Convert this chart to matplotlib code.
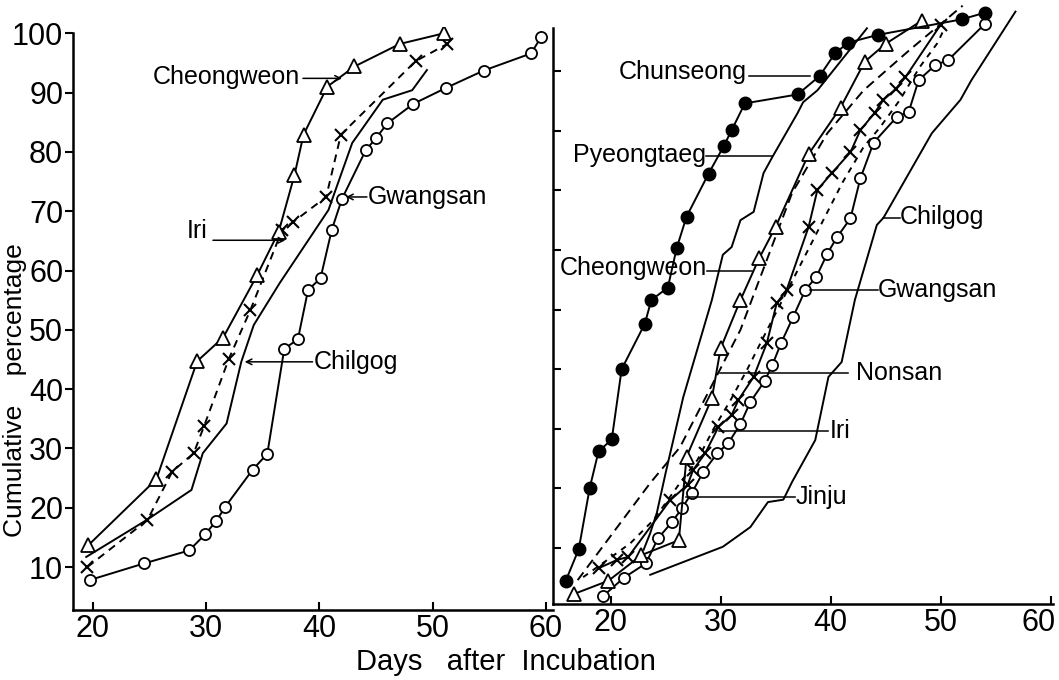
import matplotlib
matplotlib.use('Agg')
import matplotlib.pyplot as plt
from matplotlib.transforms import ScaledTranslation

plt.rcParams['font.family'] = ['Liberation Sans', 'DejaVu Sans']

# ---- left panel: days after incubation / cumulative percentage ----
l_cheong_day = [19.6, 25.6, 29.2, 31.5, 34.5, 36.4, 37.8, 38.6, 40.7, 43.1, 47.1, 51.0]
l_cheong_pct = [13.7, 24.8, 44.7, 48.7, 59.2, 66.5, 76.1, 82.9, 91.0, 94.4, 98.2, 100.0]

l_iri_day = [19.5, 24.8, 27.0, 28.9, 29.8, 32.0, 33.9, 36.7, 37.7, 40.6, 41.9, 48.5, 51.3]
l_iri_pct = [10.0, 17.9, 26.1, 29.2, 33.7, 45.1, 53.3, 66.8, 68.2, 72.4, 82.9, 95.3, 98.2]

l_chil_day = [19.4, 24.8, 28.7, 29.7, 31.8, 33.1, 34.2, 36.5, 40.8, 42.9, 45.6, 48.2, 49.5]
l_chil_pct = [11.7, 18.0, 23.0, 29.2, 34.2, 44.6, 50.8, 57.9, 70.2, 81.5, 88.8, 90.4, 93.8]

l_gwang_day = [19.7, 24.5, 28.5, 29.9, 30.9, 31.7, 34.1, 35.4, 36.9, 38.1, 39.0,
               40.1, 41.1, 42.0, 44.1, 45.0, 46.0, 48.3, 51.2, 54.5, 58.7, 59.6]
l_gwang_pct = [7.8, 10.6, 12.8, 15.5, 17.8, 20.2, 26.4, 29.1, 46.8, 48.4, 56.7,
               58.7, 66.9, 72.1, 80.3, 82.3, 84.8, 88.1, 90.8, 93.7, 96.6, 99.4]

# ---- right panel ----
r_chun_day = [15.9, 17.1, 18.1, 18.9, 20.1, 21.0, 23.1, 23.7, 25.2, 26.0, 26.9,
              28.9, 30.3, 31.0, 32.2, 37.0, 39.0, 40.4, 41.6, 44.3, 51.9, 54.0]
r_chun_pct = [4.4, 9.8, 20.1, 26.2, 28.2, 40.0, 47.6, 51.6, 53.7, 60.3, 65.6,
              72.8, 77.5, 80.1, 84.6, 86.1, 89.2, 93.0, 94.8, 96.1, 98.7, 99.8]

r_pyeong_day = [23.0, 23.6, 24.2, 25.0, 26.6, 29.2, 30.2, 31.0, 31.8, 33.0, 33.9,
                34.7, 37.0, 37.5, 38.8, 43.3]
r_pyeong_pct = [9.7, 12.5, 15.9, 22.6, 35.3, 51.6, 59.2, 60.5, 65.0, 66.4, 72.9,
                75.6, 83.0, 84.8, 86.8, 97.2]

r_cheong_day = [16.7, 19.8, 22.8, 26.2, 26.9, 29.2, 30.0, 31.8, 33.5, 35.0, 38.0,
                40.9, 43.1, 45.0, 48.3]
r_cheong_pct = [2.3, 4.5, 8.8, 11.3, 25.3, 35.1, 43.5, 51.6, 58.6, 63.9, 76.1,
                83.9, 91.6, 94.6, 98.5]

r_chil_day = [23.6, 30.2, 32.7, 34.3, 35.7, 36.5, 38.6, 39.8, 41.0, 42.2, 44.2,
              44.8, 49.2, 51.8, 52.8, 56.8]
r_chil_pct = [5.5, 10.2, 13.5, 17.7, 18.1, 21.1, 28.1, 38.7, 41.2, 51.6, 64.2,
              65.4, 79.6, 85.2, 88.5, 100.0]

r_gwang_day = [19.3, 21.2, 23.2, 24.3, 25.6, 26.5, 27.4, 28.4, 29.7, 30.7, 31.8,
               32.7, 34.0, 34.7, 35.5, 36.6, 37.7, 38.7, 39.7, 40.6, 41.8, 42.7,
               43.9, 46.0, 47.1, 48.0, 49.5, 50.7, 54.0]
r_gwang_pct = [1.9, 5.0, 7.4, 11.6, 14.4, 16.7, 19.3, 22.7, 25.9, 27.6, 30.8,
               34.5, 38.0, 40.7, 44.4, 48.8, 53.3, 55.5, 59.4, 62.2, 65.3, 72.0,
               78.0, 82.3, 83.2, 88.5, 91.0, 91.9, 97.9]

r_iri_day = [18.9, 20.6, 21.6, 25.4, 27.0, 27.5, 28.6, 29.8, 31.0, 31.6, 33.0,
             34.2, 35.1, 36.0, 38.0, 38.8, 40.1, 41.8, 42.7, 44.0, 44.8, 45.9,
             46.8, 50.0]
r_iri_pct = [6.6, 8.0, 8.5, 18.0, 20.6, 23.1, 25.9, 30.3, 32.3, 34.8, 38.7,
             44.4, 51.1, 53.3, 63.9, 70.1, 72.9, 76.4, 80.1, 83.0, 85.2, 87.0,
             89.0, 97.8]

r_nonsan_day = [17.0, 23.6, 26.3, 31.8, 36.5, 39.7, 43.0, 47.2, 52.0]
r_nonsan_pct = [4.6, 20.9, 26.9, 46.6, 69.6, 79.6, 86.8, 93.6, 101.0]

r_jinju_day = [17.5, 19.7, 21.8, 23.9, 26.3, 27.9, 29.3, 30.9, 32.4, 33.9, 41.1,
               43.0, 44.5, 46.3, 48.1, 49.7, 50.4]
r_jinju_pct = [5.1, 8.0, 10.8, 14.7, 20.9, 24.8, 29.8, 34.8, 39.9, 45.4, 71.4,
               77.3, 80.6, 85.2, 90.7, 94.7, 97.4]

day_ticks = [20, 30, 40, 50, 60]
pct_ticks = [10, 20, 30, 40, 50, 60, 70, 80, 90, 100]

LW = 1.4
tri = dict(marker='^', ms=10, mfc='white', mec='black', mew=1.3)
circ = dict(marker='o', ms=8, mfc='white', mec='black', mew=1.3)
dot = dict(marker='o', ms=9, mfc='black', mec='black')
cross = dict(marker='x', ms=9, mec='black', mew=1.5)

fig = plt.figure(figsize=(10.59, 6.8), dpi=100)
axL = fig.add_axes([0.0689, 0.1029, 0.4533, 0.8574])
axR = fig.add_axes([0.5222, 0.1118, 0.4778, 0.8882])
for ax in (axL, axR):
    ax.patch.set_visible(False)
    ax.spines['top'].set_visible(False)
    ax.spines['right'].set_visible(False)
    for s in ('left', 'bottom'):
        ax.spines[s].set_linewidth(1.8)

# left panel
axL.plot(l_chil_day, l_chil_pct, color='black', lw=LW)
axL.plot(l_iri_day, l_iri_pct, color='black', lw=LW, ls=(0, (4, 3)), **cross)
axL.plot(l_gwang_day, l_gwang_pct, color='black', lw=LW, **circ)
axL.plot(l_cheong_day, l_cheong_pct, color='black', lw=LW, **tri)

axL.set_xlim(18.23, 60.64)
axL.set_ylim(2.75, 101.06)
axL.spines['left'].set_bounds(2.75, 100)
axL.set_xticks(day_ticks)
axL.set_yticks(pct_ticks)
axL.tick_params(axis='x', direction='in', length=6, width=1.5, labelsize=22, pad=3)
axL.tick_params(axis='y', direction='out', length=6, width=1.5, labelsize=22, pad=1)

arrow = dict(arrowstyle='->', color='black', lw=1.1, shrinkA=0, shrinkB=0)
fs = 18
axL.text(38.3, 92.6, 'Cheongweon', ha='right', va='center', fontsize=fs)
axL.annotate('', xy=(42.0, 92.4), xytext=(38.55, 92.4), arrowprops=arrow)
axL.text(30.1, 66.6, 'Iri', ha='right', va='center', fontsize=fs)
axL.annotate('', xy=(37.0, 65.1), xytext=(30.6, 65.1), arrowprops=arrow)
axL.text(44.3, 72.4, 'Gwangsan', ha='left', va='center', fontsize=fs)
axL.annotate('', xy=(42.35, 72.4), xytext=(44.2, 72.4), arrowprops=arrow)
axL.text(39.5, 44.6, 'Chilgog', ha='left', va='center', fontsize=fs)
axL.annotate('', xy=(33.4, 44.6), xytext=(39.4, 44.6), arrowprops=arrow)

# right panel
axR.plot(r_chil_day, r_chil_pct, color='black', lw=LW)
axR.plot(r_pyeong_day, r_pyeong_pct, color='black', lw=LW)
axR.plot(r_nonsan_day, r_nonsan_pct, color='black', lw=LW, ls=(0, (5, 3)))
axR.plot(r_jinju_day, r_jinju_pct, color='black', lw=LW, ls=(0, (3, 3)))
axR.plot(r_iri_day, r_iri_pct, color='black', lw=LW, **cross)
axR.plot(r_gwang_day, r_gwang_pct, color='black', lw=LW, **circ)
axR.plot(r_cheong_day, r_cheong_pct, color='black', lw=LW, **tri)
axR.plot(r_chun_day, r_chun_pct, color='black', lw=LW, **dot)

axR.set_xlim(14.76, 60.76)
axR.set_ylim(0.6, 101.95)
axR.spines['left'].set_bounds(0.6, 97.2)
axR.spines['bottom'].set_bounds(14.76, 60.2)
axR.set_xticks(day_ticks)
axR.set_yticks(pct_ticks[:-1])
axR.tick_params(axis='x', direction='in', length=6, width=1.5, labelsize=22, pad=3)
axR.tick_params(axis='y', direction='in', length=6, width=1.5, labelleft=False)
# keep the last hand-lettered "60" inside the page
last = axR.get_xticklabels()[-1]
last.set_transform(last.get_transform() + ScaledTranslation(-0.12, 0, fig.dpi_scale_trans))

lead = dict(color='black', lw=1.1)
axR.text(32.4, 89.9, 'Chunseong', ha='right', va='center', fontsize=fs)
axR.plot([32.56, 38.1], [89.2, 89.2], **lead)
axR.text(28.7, 75.9, 'Pyeongtaeg', ha='right', va='center', fontsize=fs)
axR.plot([28.7, 34.7], [75.8, 75.8], **lead)
axR.text(28.8, 57.0, 'Cheongweon', ha='right', va='center', fontsize=fs)
axR.plot([28.8, 32.85], [56.5, 56.5], **lead)
axR.text(46.3, 65.5, 'Chilgog', ha='left', va='center', fontsize=fs)
axR.plot([44.76, 46.3], [65.4, 65.4], **lead)
axR.text(44.3, 53.3, 'Gwangsan', ha='left', va='center', fontsize=fs)
axR.plot([38.1, 44.3], [53.3, 53.3], **lead)
axR.text(42.3, 39.4, 'Nonsan', ha='left', va='center', fontsize=fs)
axR.plot([29.95, 41.6], [39.4, 39.4], **lead)
axR.text(39.95, 29.6, 'Iri', ha='left', va='center', fontsize=fs)
axR.plot([29.85, 39.8], [29.6, 29.6], **lead)
axR.text(36.8, 18.6, 'Jinju', ha='left', va='center', fontsize=fs)
axR.plot([26.85, 36.8], [18.6, 18.6], **lead)

fig.text(506 / 1059, 1 - 662 / 680, 'Days   after  Incubation', ha='center', va='center',
         fontsize=21)
fig.text(15 / 1059, 1 - 390 / 680, 'Cumulative    percentage', ha='center', va='center',
         rotation=90, fontsize=19)

fig.savefig('out.png', dpi=100)
